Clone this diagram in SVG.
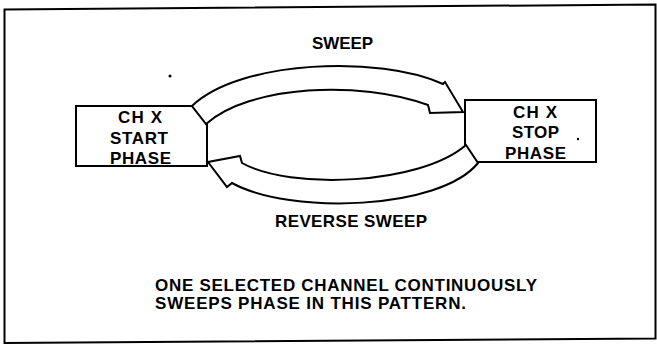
<svg xmlns="http://www.w3.org/2000/svg" width="657" height="345" viewBox="0 0 657 345">
<style>
.ln{fill:none;stroke:#000;stroke-width:2;stroke-linejoin:miter}
.box{fill:#fff;stroke:#000;stroke-width:2}
.arr{fill:#fff;stroke:#000;stroke-width:2;stroke-linejoin:miter}
text{font-family:"Liberation Sans",Arial,sans-serif;font-size:17px;font-weight:bold;fill:#000}
</style>
<rect width="657" height="345" fill="#fff"/>
<polygon class="ln" points="4.5,9.5 655.5,4.5 655.5,338.5 4.5,343"/>
<g id="node-start">
<rect class="box" x="76" y="106" width="131" height="60"/>
<text x="118" y="123" textLength="44">CH X</text>
<text x="110" y="144" textLength="58">START</text>
<text x="110" y="164" textLength="61">PHASE</text>
</g>
<g id="node-stop">
<rect class="box" x="465" y="100" width="131" height="62"/>
<text x="513" y="118" textLength="44">CH X</text>
<text x="512" y="138" textLength="47">STOP</text>
<text x="505" y="159" textLength="61">PHASE</text>
</g>
<g id="connectors">
<path id="sweep" class="arr" d="M192,106 C240,60 380,55 443,84 L445,82 L463,112 L430,113 L428,105 C360,80 250,85 206,124 Z"/>
<path id="reverse-sweep" class="arr" d="M466,145 C420,185 290,190 242,163 L240,156 L208,162 L227,187 L232,183 C290,215 440,210 478,163 Z"/>
</g>
<g id="labels">
<text x="312" y="49" textLength="61">SWEEP</text>
<text x="275" y="227" textLength="152">REVERSE SWEEP</text>
<text x="155" y="291" textLength="382">ONE SELECTED CHANNEL CONTINUOUSLY</text>
<text x="155" y="309" textLength="311">SWEEPS PHASE IN THIS PATTERN.</text>
</g>
<circle cx="170" cy="76" r="1.5" fill="#000"/>
<circle cx="578" cy="139" r="1.2" fill="#000"/>
</svg>
